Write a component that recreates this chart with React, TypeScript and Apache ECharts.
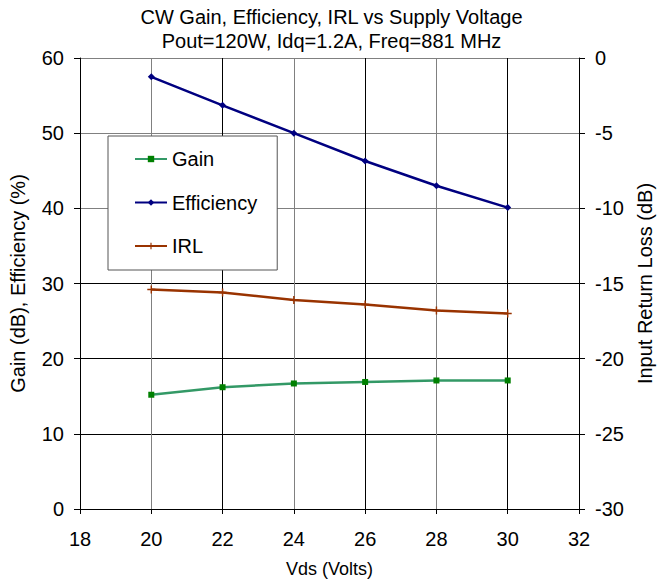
import React, { useEffect, useRef } from "react";
import * as echarts from "echarts";

const vds = [20, 22, 24, 26, 28, 30];
const gain = [15.2, 16.2, 16.7, 16.9, 17.1, 17.1];
const efficiency = [57.5, 53.7, 50.0, 46.3, 43.0, 40.1];
const irl = [-15.4, -15.6, -16.1, -16.4, -16.8, -17.0];

const titleLines = ["CW Gain, Efficiency, IRL vs Supply Voltage", "Pout=120W, Idq=1.2A, Freq=881 MHz"];
const xName = "Vds (Volts)";
const yLeftName = "Gain (dB), Efficiency (%)";
const yRightName = "Input Return Loss (dB)";

const FONT = "'Liberation Sans', Arial, sans-serif";
const PLUS = "path://M-0.18,-1H0.18V-0.18H1V0.18H0.18V1H-0.18V0.18H-1V-0.18H-0.18Z";

export default function App() {
  const ref = useRef<HTMLDivElement>(null);
  useEffect(() => {
    if (!ref.current) return;
    const chart = echarts.init(ref.current, undefined, { renderer: "svg" });
    const pairs = (ys: number[]) => vds.map((x, i) => [x, ys[i]]);
    chart.setOption({
      animation: false,
      backgroundColor: "#fff",
      textStyle: { fontFamily: FONT, color: "#000" },
      title: {
        text: titleLines.join("\n"),
        left: "center",
        top: 5,
        padding: 0,
        textStyle: { fontFamily: FONT, fontSize: 20, fontWeight: "normal", color: "#000", lineHeight: 24 },
      },
      grid: { left: 80, right: 78, top: 58, bottom: 77, containLabel: false },
      legend: {
        orient: "vertical",
        left: 108,
        top: 136,
        padding: [13, 20, 14, 26],
        itemWidth: 32,
        itemHeight: 8,
        itemGap: 23.5,
        borderColor: "#555",
        borderWidth: 1,
        backgroundColor: "#fff",
        textStyle: { fontFamily: FONT, fontSize: 20, color: "#000", lineHeight: 20 },
        data: ["Gain", "Efficiency", "IRL"],
      },
      xAxis: {
        type: "value",
        min: 18,
        max: 32,
        interval: 2,
        name: xName,
        nameLocation: "middle",
        nameGap: 51,
        nameTextStyle: { fontFamily: FONT, fontSize: 18, color: "#000" },
        axisLine: { show: true, lineStyle: { color: "#000", width: 1 } },
        axisTick: { show: true, length: 5, lineStyle: { color: "#000" } },
        axisLabel: { margin: 20, fontFamily: FONT, fontSize: 20, color: "#000" },
        splitLine: { show: true, lineStyle: { color: ["#000", "#808080"], width: 1 } },
      },
      yAxis: [
        {
          type: "value",
          min: 0,
          max: 60,
          interval: 10,
          position: "left",
          name: yLeftName,
          nameLocation: "middle",
          nameGap: 52,
          nameRotate: 90,
          nameTextStyle: { fontFamily: FONT, fontSize: 20, color: "#000" },
          axisLine: { show: true, lineStyle: { color: "#000", width: 1 } },
          axisTick: { show: true, length: 6, lineStyle: { color: "#000" } },
          axisLabel: { margin: 16, fontFamily: FONT, fontSize: 20, color: "#000" },
          splitLine: {
            show: true,
            lineStyle: { color: ["#000", "#000", "#000", "#000", "#808080", "#808080", "#808080"], width: 1 },
          },
        },
        {
          type: "value",
          min: -30,
          max: 0,
          interval: 5,
          position: "right",
          name: yRightName,
          nameLocation: "middle",
          nameGap: 56,
          nameRotate: 90,
          nameTextStyle: { fontFamily: FONT, fontSize: 20, color: "#000" },
          axisLine: { show: true, lineStyle: { color: "#000", width: 1 } },
          axisTick: { show: true, length: 6, lineStyle: { color: "#000" } },
          axisLabel: { margin: 16, fontFamily: FONT, fontSize: 20, color: "#000" },
          splitLine: { show: false },
        },
      ],
      series: [
        {
          name: "Gain",
          type: "line",
          yAxisIndex: 0,
          data: pairs(gain),
          symbol: "rect",
          symbolSize: 6,
          lineStyle: { color: "#339966", width: 2.5 },
          itemStyle: { color: "#008000" },
        },
        {
          name: "Efficiency",
          type: "line",
          yAxisIndex: 0,
          data: pairs(efficiency),
          symbol: "diamond",
          symbolSize: 7,
          lineStyle: { color: "#000080", width: 2.5 },
          itemStyle: { color: "#000080" },
        },
        {
          name: "IRL",
          type: "line",
          yAxisIndex: 1,
          data: pairs(irl),
          symbol: PLUS,
          symbolSize: 8,
          lineStyle: { color: "#993300", width: 2.5 },
          itemStyle: { color: "#993300" },
        },
      ],
    });
    return () => chart.dispose();
  }, []);
  return <div ref={ref} style={{ position: "absolute", left: 0, top: 0, width: 663, height: 586 }} />;
}
